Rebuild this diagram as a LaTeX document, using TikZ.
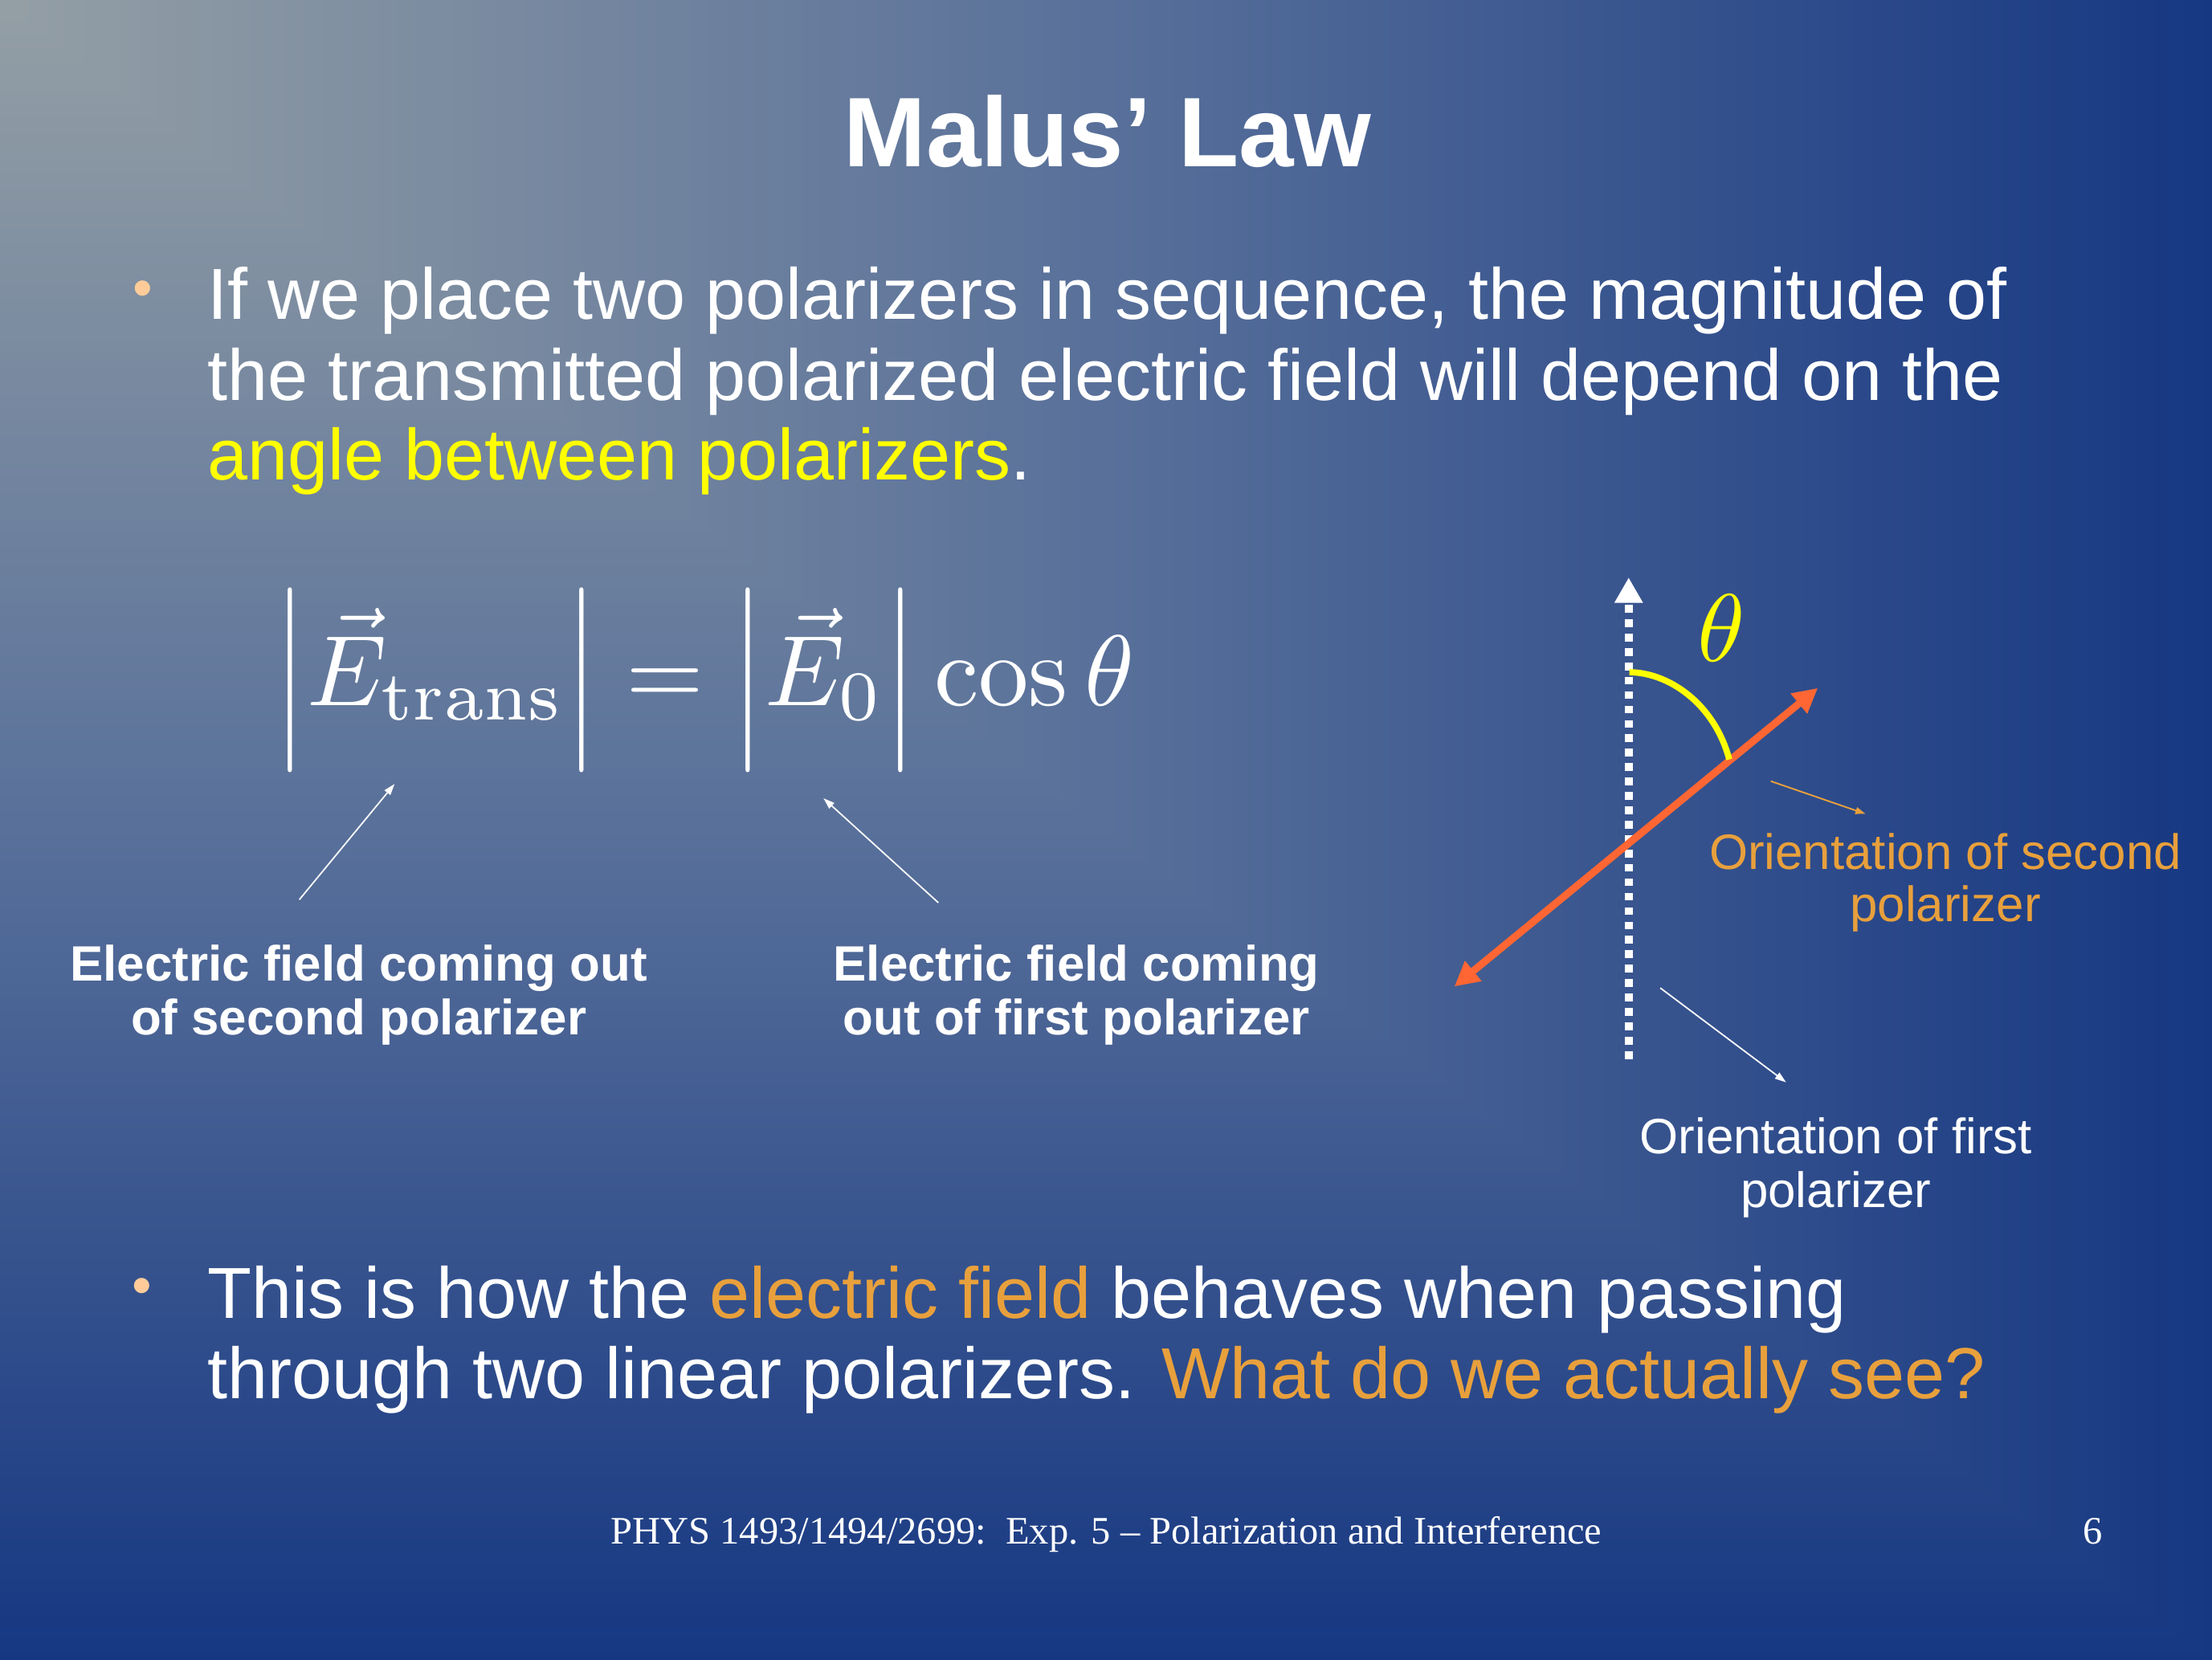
\RequirePackage{fix-cm}
\documentclass[tikz,border=0pt]{standalone}
\usepackage[no-math]{fontspec}
\newfontfamily\arialf{Liberation Sans}
\newfontfamily\serff{Liberation Serif}
\usetikzlibrary{arrows.meta}
\definecolor{bgA}{HTML}{949FA5}
\definecolor{bgB}{HTML}{58709A}
\definecolor{bgC}{HTML}{163782}
\definecolor{txtorange}{HTML}{E8A03C}
\definecolor{arrred}{HTML}{FF6633}
\definecolor{txtyellow}{HTML}{FFFF00}
\definecolor{bulletc}{HTML}{FFCC99}
\newcommand{\eqstrut}{\vrule height 11.5pt depth 6.5pt width 0pt}
\begin{document}
\begin{tikzpicture}[x=0.017564cm, y=-0.017564cm,
  every node/.style={inner sep=0pt, outer sep=0pt},
  bodytext/.style={anchor=base west, text=white, font=\arialf\fontsize{25.6}{30}\selectfont},
  labbold/.style={anchor=base, text=white, font=\arialf\bfseries\fontsize{17.6}{21}\selectfont},
  labreg/.style={anchor=base, font=\arialf\fontsize{17.6}{21}\selectfont},
  bul/.style={anchor=center, text=bulletc, font=\arialf\fontsize{20}{24}\selectfont},
  thinw/.style={draw=white, line width=0.5pt, -{Triangle[length=4pt,width=2.6pt]}},
  thino/.style={draw=txtorange, line width=0.55pt, -{Triangle[length=3.6pt,width=2.4pt]}},
  mathbig/.style={font=\fontsize{10}{12}\selectfont}]
% background
\useasboundingbox (0,0) rectangle (1568,1176.3);
\shade[top color=bgA, bottom color=bgC, middle color=bgB] (0,0) rectangle (1568,1176.3);
\shade[left color=bgA, right color=bgC, middle color=bgB] (0,0) -- (1568,0) -- (1568,1176.3) -- cycle;
% title
\node[anchor=base, text=white, font=\arialf\bfseries\fontsize{35}{42}\selectfont] (title) at (785,118.4) {Malus’ Law};
% first bullet
\node[bul] (bul1) at (101.5,208.5) {•};
\node[bodytext] (p1a) at (147,226.5) {If we place two polarizers in sequence, the magnitude of};
\node[bodytext] (p1b) at (147,283.9) {the transmitted polarized electric field will depend on the};
\node[bodytext] (p1c) at (147,340.4) {\textcolor{txtyellow}{angle between polarizers}.};
% equation
\node[anchor=base west, text=white, mathbig, scale=3.55] (eq) at (194,500) {$\left|\vec{E}_{\mathrm{trans}}\eqstrut\right| = \left|\vec{E}_0\eqstrut\right|\cos\theta$};
% labels under equation
\node[labbold] (e2a) at (254.3,695.6) {Electric field coming out};
\node[labbold] (e2b) at (254.3,733.5) {of second polarizer};
\node[labbold] (e1a) at (763,695.6) {Electric field coming};
\node[labbold] (e1b) at (763,733.5) {out of first polarizer};
\coordinate (a1s) at (212.2,637.8); \coordinate (a1e) at (279.7,555.8);
\coordinate (a2s) at (665.2,640);   \coordinate (a2e) at (583.7,565.9);
\draw[thinw] (a1s) -- (a1e);
\draw[thinw] (a2s) -- (a2e);
% polarizer diagram
\coordinate (ax1b) at (1154.5,750.7); \coordinate (ax1t) at (1154.5,409.4);
\draw[white, line width=2.75pt, dash pattern=on 2.75pt off 2.35pt, -{Triangle[length=9pt,width=9.5pt]}] (ax1b) -- (ax1t);
\coordinate (ax2a) at (1030.9,699.4); \coordinate (ax2b) at (1288.6,487.8);
\draw[arrred, line width=2.6pt, {Triangle[length=8.7pt,width=8.7pt]}-{Triangle[length=8.7pt,width=8.7pt]}] (ax2a) -- (ax2b);
\coordinate (arcS) at (1155,476.6); \coordinate (arcE) at (1225.8,538.4);
\draw[txtyellow, line width=2.2pt] (arcS) .. controls (1182,476.6) and (1215,498) .. (arcE);
\node[text=txtyellow, mathbig, scale=3.4] (th) at (1220,445) {$\theta$};
\node[labreg, text=txtorange] (o2a) at (1379,616.2) {Orientation of second};
\node[labreg, text=txtorange] (o2b) at (1379,653.2) {polarizer};
\node[labreg, text=white] (o1a) at (1301.4,817.6) {Orientation of first};
\node[labreg, text=white] (o1b) at (1301.4,856) {polarizer};
\coordinate (a4s) at (1255.2,553.8); \coordinate (a4e) at (1322.4,577);
\coordinate (a3s) at (1176.9,700.4); \coordinate (a3e) at (1266.1,767.3);
\draw[thino] (a4s) -- (a4e);
\draw[thinw] (a3s) -- (a3e);
% second bullet
\node[bul] (bul2) at (100.6,915.5) {•};
\node[bodytext] (p2a) at (147,934.7) {This is how the \textcolor{txtorange}{electric field} behaves when passing};
\node[bodytext] (p2b) at (147,991.6) {through two linear polarizers. \textcolor{txtorange}{What do we actually see?}};
% footer
\node[anchor=base west, text=white, font=\serff\fontsize{13.8}{16}\selectfont] (foot) at (433,1094.7) {PHYS 1493/1494/2699:\ \ Exp. 5 – Polarization and Interference};
\node[anchor=base, text=white, font=\serff\fontsize{13.8}{16}\selectfont] (pg) at (1483.5,1094.7) {6};
\end{tikzpicture}
\end{document}
